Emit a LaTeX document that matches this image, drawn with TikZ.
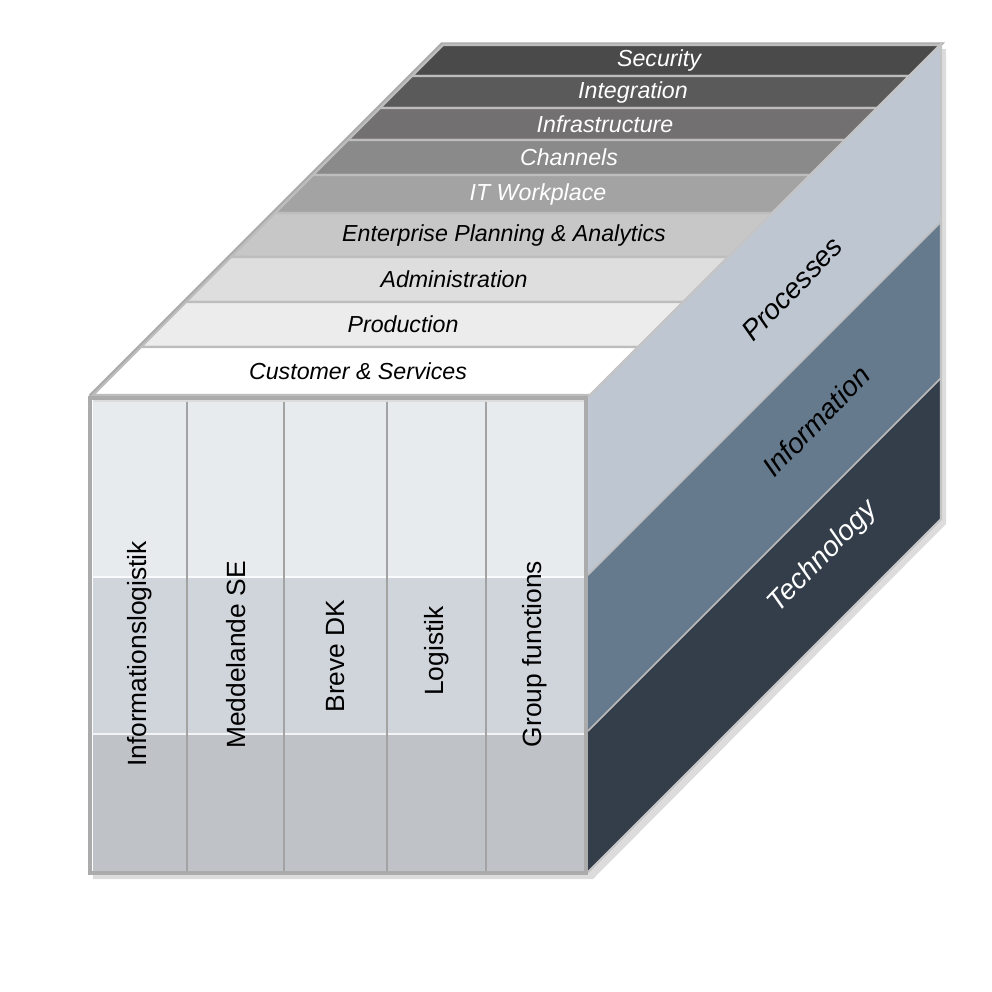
\documentclass[tikz,border=0pt]{standalone}
\usepackage{fontspec}
\setmainfont{Liberation Sans}

\definecolor{secfill}{HTML}{4A4A4A}
\definecolor{intfill}{HTML}{5A5A5A}
\definecolor{inffill}{HTML}{727070}
\definecolor{chafill}{HTML}{8A8A8A}
\definecolor{itwfill}{HTML}{A3A3A3}
\definecolor{epafill}{HTML}{C8C7C8}
\definecolor{admfill}{HTML}{DEDEDE}
\definecolor{profill}{HTML}{ECECEC}
\definecolor{cusfill}{HTML}{FFFFFF}
\definecolor{bandtop}{HTML}{E8EBEE}
\definecolor{bandmid}{HTML}{D0D5DC}
\definecolor{bandlow}{HTML}{BFC2C6}
\definecolor{procfill}{HTML}{BEC6D1}
\definecolor{infofill}{HTML}{667A8E}
\definecolor{techfill}{HTML}{333E4A}
\definecolor{framegray}{HTML}{ABABAB}
\definecolor{linegray}{HTML}{BDBDBD}
\definecolor{sepgray}{HTML}{A3A3A3}
\definecolor{shadegray}{HTML}{DCDCDC}

\tikzset{
  strip/.style={draw=linegray, line width=1.2pt},
  striplabel/.style={font=\itshape\fontsize{13.2}{15}\selectfont},
  colsep/.style={draw=sepgray, line width=1.1pt},
  collabel/.style={rotate=90, font=\fontsize{15}{18}\selectfont},
  sidelabel/.style={rotate=46, inner sep=1pt, font=\itshape\fontsize{16}{19}\selectfont}
}

\begin{document}
\begin{tikzpicture}[x=0.02cm, y=-0.02cm]
\useasboundingbox (0,0) rectangle (992,992);

% shadow behind the cube
\fill[shadegray] (93,401) -- (445,49) -- (946,49) -- (946,524) -- (593,879) -- (93,879) -- cycle;

% top face
\draw[framegray, line width=2pt] (90,396) -- (442,44) -- (941,44) -- (589,396);
\filldraw[strip, fill=secfill] (443,45) -- ++(497,0) -- ++(-31,31) -- ++(-497,0) -- cycle;
\filldraw[strip, fill=intfill] (412,76) -- ++(497,0) -- ++(-32,32) -- ++(-497,0) -- cycle;
\filldraw[strip, fill=inffill] (380,108) -- ++(497,0) -- ++(-32,32) -- ++(-497,0) -- cycle;
\filldraw[strip, fill=chafill] (348,140) -- ++(497,0) -- ++(-35,35) -- ++(-497,0) -- cycle;
\filldraw[strip, fill=itwfill] (313,175) -- ++(497,0) -- ++(-38,38) -- ++(-497,0) -- cycle;
\filldraw[strip, fill=epafill] (275,213) -- ++(497,0) -- ++(-44,44) -- ++(-497,0) -- cycle;
\filldraw[strip, fill=admfill] (231,257) -- ++(497,0) -- ++(-45,45) -- ++(-497,0) -- cycle;
\filldraw[strip, fill=profill] (186,302) -- ++(497,0) -- ++(-45,45) -- ++(-497,0) -- cycle;
\filldraw[strip, fill=cusfill] (141,347) -- ++(497,0) -- ++(-48,48) -- ++(-497,0) -- cycle;

\node[striplabel, text=white] (sec) at (659,60) {Security};
\node[striplabel, text=white] (integ) at (633,92) {Integration};
\node[striplabel, text=white] (infra) at (605,124) {Infrastructure};
\node[striplabel, text=white] (chan) at (569,157) {Channels};
\node[striplabel, text=white] (itwp) at (538,194) {IT Workplace};
\node[striplabel] (epa) at (504,235) {Enterprise Planning \& Analytics};
\node[striplabel] (admin) at (454,279) {Administration};
\node[striplabel] (prod) at (403,324) {Production};
\node[striplabel] (cust) at (358,371) {Customer \& Services};

% right face
\fill[procfill] (588,397) -- (941,44) -- (941,222) -- (588,575) -- cycle;
\fill[infofill] (588,575) -- (941,222) -- (941,378) -- (588,731) -- cycle;
\fill[techfill] (588,731) -- (941,378) -- (941,519) -- (588,872) -- cycle;
\draw[linegray, line width=0.9pt] (588,575) -- (941,222);
\draw[linegray, line width=0.9pt] (588,731) -- (941,378);
\draw[framegray!70, line width=1.2pt] (588,397) -- (941,44) -- (941,519) -- (588,872);

\node[sidelabel] (proc) at (792,289) {Processes};
\node[sidelabel] (info) at (816,421) {Information};
\node[sidelabel, text=white] (tech) at (823,557) {Technology};

% front face
\fill[bandtop] (93,402) rectangle (584,576);
\fill[bandmid] (93,576) rectangle (584,733);
\fill[bandlow] (93,733) rectangle (584,871);
\draw[white!80!bandtop, line width=1.2pt] (93,577) -- (584,577);
\draw[white!70!bandmid, line width=1.2pt] (93,734) -- (584,734);
\draw[colsep] (187,402) -- (187,871);
\draw[colsep] (284,402) -- (284,871);
\draw[colsep] (387,402) -- (387,871);
\draw[colsep] (486,402) -- (486,871);
\draw[framegray, line width=2.4pt] (90,398) rectangle (586,873);

\node[collabel] (infolog) at (140,654) {Informationslogistik};
\node[collabel] (meddse) at (236,655) {Meddelande SE};
\node[collabel] (brevedk) at (336,656) {Breve DK};
\node[collabel] (logistik) at (437,651) {Logistik};
\node[collabel] (groupfn) at (535,654) {Group functions};
\end{tikzpicture}
\end{document}
